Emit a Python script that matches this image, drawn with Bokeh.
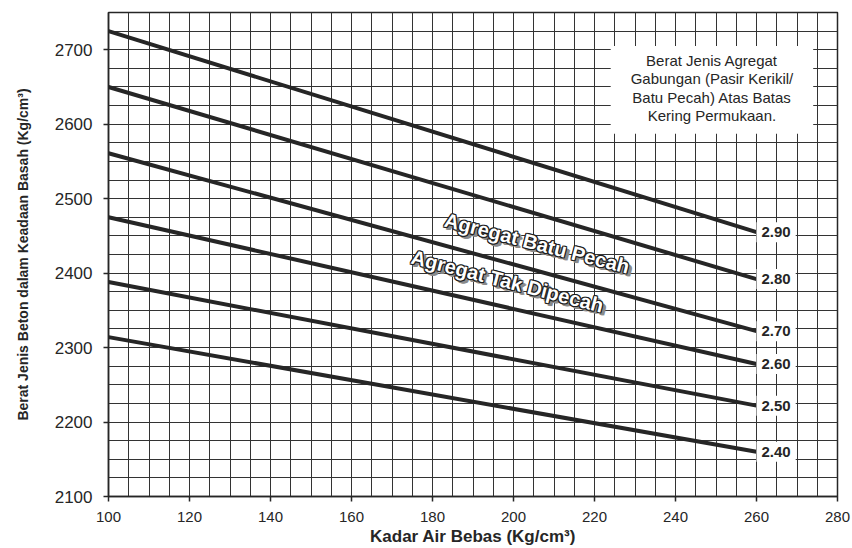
from bokeh.plotting import figure
from bokeh.models import Range1d, FixedTicker, BoxAnnotation, Label, ColumnDataSource
from bokeh.core.properties import value
from bokeh.embed import file_html
from bokeh.resources import INLINE

# ---- data ----
x_water = [100, 260]                      # Kadar Air Bebas at line ends
gravity = ["2.90", "2.80", "2.70", "2.60", "2.50", "2.40"]
density_at_100 = [2725, 2650, 2561, 2475, 2388, 2314]
density_at_260 = [2455, 2392, 2322, 2278, 2222, 2160]

x_ticks = [100, 120, 140, 160, 180, 200, 220, 240, 260, 280]
y_ticks = [2100, 2200, 2300, 2400, 2500, 2600, 2700]

curve_names = ["Agregat Batu Pecah", "Agregat Tak Dipecah"]
box_lines = ["Berat Jenis Agregat", "Gabungan (Pasir Kerikil/",
             "Batu Pecah) Atas Batas", "Kering Permukaan."]

FONT = "Liberation Sans"
INK = "#262626"

p = figure(width=852, height=548, output_backend="svg", toolbar_location=None,
           x_range=Range1d(100, 280), y_range=Range1d(2100, 2750),
           min_border_left=108, min_border_right=15, min_border_top=12, min_border_bottom=51)
p.background_fill_color = "white"
p.border_fill_color = "white"
p.outline_line_color = INK
p.outline_line_width = 1.5

# grid
p.xgrid.ticker = FixedTicker(ticks=list(range(100, 281, 5)))
p.ygrid.ticker = FixedTicker(ticks=list(range(2100, 2751, 25)))
for g in (p.xgrid, p.ygrid):
    g.grid_line_color = "#333333"
    g.grid_line_width = 1
    g.grid_line_alpha = 1.0

# axes
p.xaxis.ticker = FixedTicker(ticks=x_ticks)
p.yaxis.ticker = FixedTicker(ticks=y_ticks)
for ax in (p.xaxis, p.yaxis):
    ax.axis_line_color = INK
    ax.axis_line_width = 1.5
    ax.major_tick_line_color = INK
    ax.major_tick_line_width = 1.5
    ax.major_tick_out = 5
    ax.major_tick_in = 0
    ax.minor_tick_line_color = None
    ax.major_label_text_font = FONT
    ax.major_label_text_color = INK
    ax.axis_label_text_font = FONT
    ax.axis_label_text_font_style = "bold"
    ax.axis_label_text_color = INK
p.xaxis.major_label_text_font_size = "15px"
p.yaxis.major_label_text_font_size = "17px"
p.xaxis.axis_label = "Kadar Air Bebas (Kg/cm³)"
p.xaxis.axis_label_text_font_size = "17px"
p.xaxis.major_label_standoff = 10
p.xaxis.axis_label_standoff = 2
p.yaxis.axis_label = "Berat Jenis Beton dalam Keadaan Basah (Kg/cm³)"
p.yaxis.axis_label_text_font_size = "14px"
p.yaxis.major_label_standoff = 11
p.yaxis.axis_label_standoff = 21

# lines
for s, e in zip(density_at_100, density_at_260):
    p.line(x=x_water, y=[s, e], line_color=INK, line_width=4)

# end labels
lab_src = ColumnDataSource(dict(x=[x_water[1]] * len(gravity), y=density_at_260, t=gravity))
p.text(x="x", y="y", text="t", source=lab_src, x_offset=0,
       text_font=value(FONT), text_font_style="bold", text_font_size="15px",
       text_color=INK, text_align="left", text_baseline="middle",
       background_fill_color="white", padding=5)

# info box
p.add_layout(BoxAnnotation(left=224, right=274, bottom=2587, top=2705,
                           fill_color="white", fill_alpha=1.0, line_color=None))
for txt, yy in zip(box_lines, [2685, 2661, 2636, 2612]):
    p.add_layout(Label(x=249, y=yy, text=txt, text_align="center", text_baseline="middle",
                       text_font=FONT, text_font_size="15px", text_color=INK))

# rotated curve labels with outline + shadow
ann = ColumnDataSource(dict(x=[205.8, 198.5], y=[2440, 2389], t=curve_names))
common = dict(x="x", y="y", text="t", source=ann, angle=-14.5, angle_units="deg",
              text_font=value(FONT), text_font_style="bold", text_font_size="20px",
              text_align="center", text_baseline="middle")
for dx, dy in [(2, 2), (3, 3), (3, 2), (2, 3), (4, 3)]:
    p.text(x_offset=dx, y_offset=dy, text_color="#8a8a8a", **common)
for dx, dy in [(-1, -1), (1, -1), (-1, 1), (1, 1), (0, -1), (0, 1), (-1, 0), (1, 0)]:
    p.text(x_offset=dx, y_offset=dy, text_color="#1e1e1e", **common)
p.text(text_color="white", **common)

open("out.html", "w").write(file_html(p, INLINE))
